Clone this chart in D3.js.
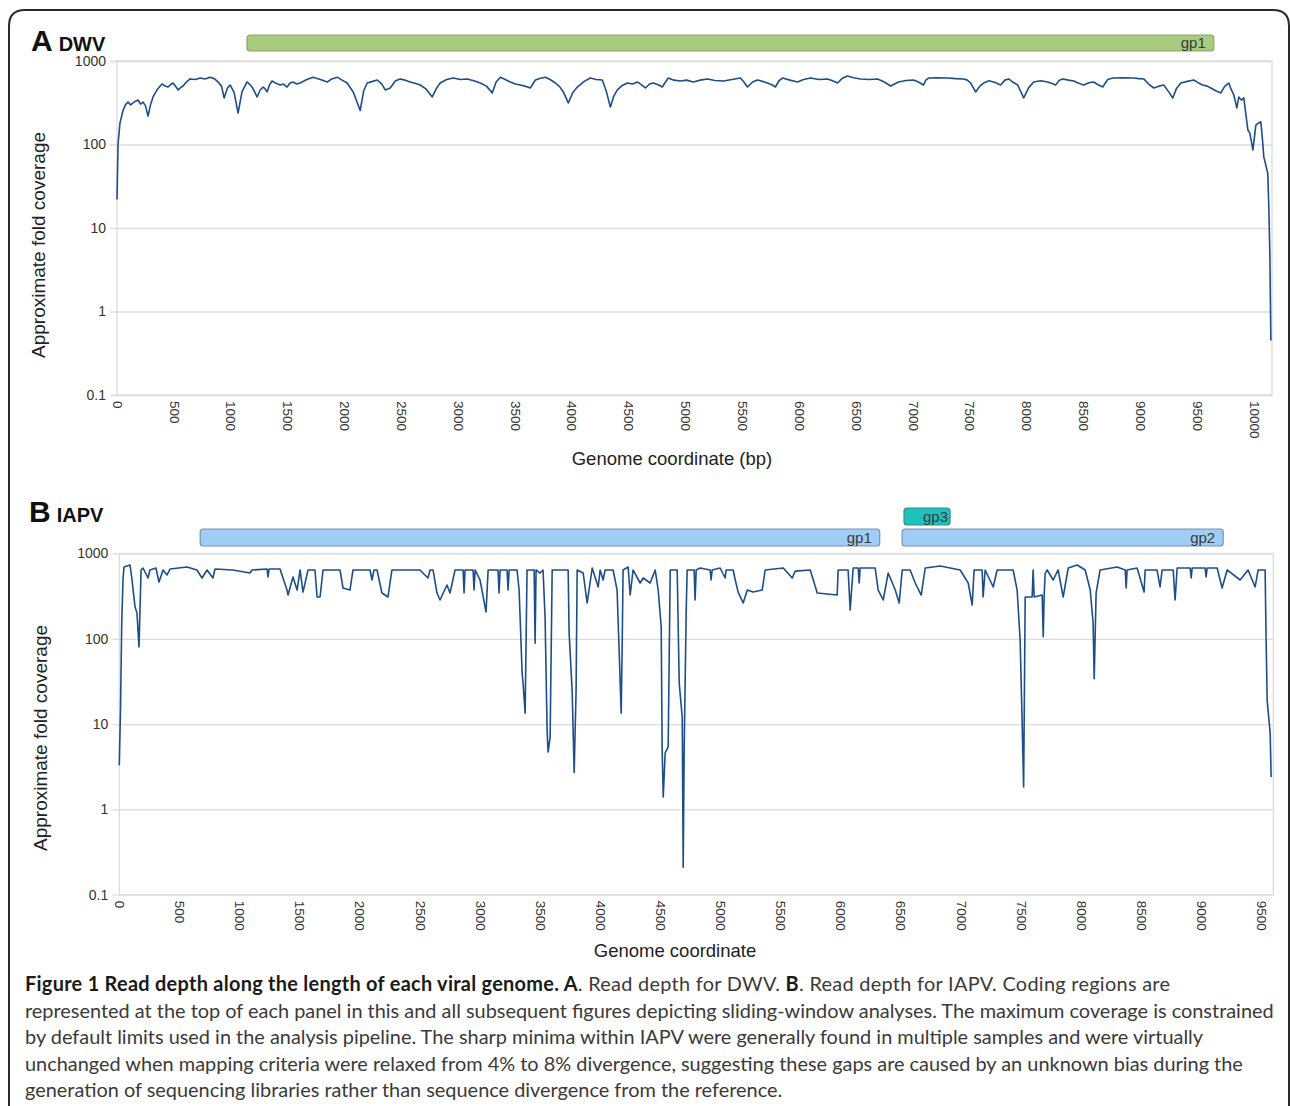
<!DOCTYPE html>
<html>
<head>
<meta charset="utf-8">
<script src="https://cdn.jsdelivr.net/npm/d3@7"></script>
<style>
  body { margin: 0; background: #fff; }
  svg text { font-family: "Liberation Sans", Arial, sans-serif; }
  .caption text { font-family: Lato, "Open Sans", sans-serif; }
</style>
</head>
<body>
<svg id="fig" width="1290" height="1106"></svg>
<script>
// ---- data ----
// DWV read depth: [genome position (bp), approximate fold coverage]
var dwvDepth = [
  [0,22],[9,100],[26,180],[53,255],[75,300],[97,322],[120,298],[141,315],[163,330],[185,341],[207,305],[229,322],[251,290],[273,219],[295,300],[317,371],
  [356,460],[396,531],[420,505],[449,488],[470,520],[493,545],[515,500],[537,450],[560,480],[581,502],[610,560],[643,610],[690,600],[731,625],[775,610],[819,640],[855,615],[889,561],[920,500],[942,361],
  [970,470],[995,516],[1030,420],[1065,238],[1100,430],[1144,561],[1165,530],[1188,488],[1210,430],[1232,371],[1260,450],[1285,488],[1300,470],[1320,426],[1342,520],[1364,575],[1400,540],[1435,516],[1465,530],[1496,488],
  [1520,540],[1549,561],[1580,530],[1611,545],[1670,600],[1725,640],[1790,600],[1849,561],[1890,610],[1937,640],[1980,590],[2025,545],[2080,420],[2139,255],[2170,440],[2201,545],[2250,570],[2289,592],[2330,530],[2359,450],
  [2403,475],[2450,580],[2491,610],[2535,590],[2579,561],[2620,540],[2667,516],[2720,460],[2773,371],[2810,470],[2843,545],[2900,600],[2958,625],[3020,600],[3081,610],[3140,580],[3195,545],[3250,500],[3301,415],
  [3335,560],[3372,640],[3415,600],[3460,561],[3505,530],[3548,516],[3590,500],[3636,475],[3680,592],[3725,620],[3768,640],[3810,600],[3856,545],[3895,490],[3926,426],[3970,315],[4010,420],[4049,488],
  [4110,570],[4164,625],[4215,600],[4269,592],[4305,430],[4340,281],[4370,380],[4401,450],[4445,510],[4489,545],[4535,530],[4577,561],[4612,520],[4648,475],[4685,530],[4718,545],[4760,520],[4797,488],[4825,560],[4850,625],
  [4900,590],[4956,575],[5010,590],[5070,561],[5130,590],[5194,610],[5260,585],[5335,575],[5410,600],[5484,625],[5515,560],[5546,488],[5590,560],[5634,592],[5680,570],[5722,545],[5760,520],[5792,488],[5823,580],[5854,625],
  [5920,590],[5986,561],[6040,600],[6100,625],[6175,600],[6250,610],[6295,580],[6338,545],[6380,620],[6426,661],[6480,630],[6540,610],[6615,600],[6690,610],[6750,560],[6805,502],[6840,530],[6875,561],[6940,585],[7007,592],
  [7050,560],[7095,516],[7115,590],[7139,625],[7220,630],[7306,625],[7380,615],[7447,610],[7480,590],[7509,545],[7553,426],[7590,500],[7623,545],[7670,580],[7711,561],[7740,540],[7773,516],[7810,590],[7843,610],[7880,560],
  [7923,516],[7976,361],[8020,480],[8064,561],[8125,580],[8187,561],[8220,540],[8257,516],[8290,590],[8319,610],[8370,590],[8416,575],[8460,540],[8504,516],[8550,550],[8592,561],[8630,520],[8671,488],[8715,600],
  [8759,625],[8850,630],[8944,625],[8990,615],[9032,610],[9075,530],[9120,475],[9165,500],[9208,516],[9250,430],[9287,361],[9320,470],[9358,545],[9415,570],[9472,592],[9510,550],[9551,516],[9590,500],[9622,475],
  [9665,440],[9710,415],[9745,500],[9780,545],[9800,460],[9824,392],[9851,274],[9868,371],[9890,340],[9912,361],[9930,230],[9948,149],[9965,137],[9992,86],[10018,171],
  [10040,180],[10062,187],[10075,120],[10088,71],[10123,45],[10132,18],[10141,5],[10150,0.45]
];

// IAPV read depth: [genome position (bp), approximate fold coverage]
var iapvDepth = [
  [0,3.3],[10,15],[20,150],[31,500],[39,695],[89,733],[103,530],[131,237],[147,200],[164,80],
  [181,641],[197,676],[239,516],[255,641],[305,676],[330,463],[364,641],[397,560],[422,658],[563,695],
  [646,641],[688,516],[730,641],[779,516],[796,658],[946,641],[1087,590],[1104,641],[1229,658],[1237,530],
  [1246,658],[1337,658],[1362,516],[1395,373],[1404,326],[1445,530],[1479,373],[1504,641],[1528,353],[1570,641],
  [1628,641],[1645,309],[1670,309],[1695,641],[1836,641],[1861,394],[1919,373],[1944,641],[2086,641],[2102,489],
  [2119,641],[2144,641],[2185,344],[2235,309],[2268,641],[2501,641],[2568,516],[2585,641],[2610,641],[2643,344],
  [2668,285],[2726,427],[2751,344],[2793,641],[2860,641],[2868,344],[2876,641],[2943,641],[2951,373],[2960,641],
  [3001,489],[3051,206],[3068,641],[3151,641],[3159,344],[3168,641],[3226,641],[3234,373],[3243,641],[3309,641],
  [3326,373],[3351,40],[3359,30],[3376,13.4],[3392,641],[3451,641],[3459,89],[3467,641],[3500,590],[3525,641],
  [3542,180],[3559,8.5],[3567,4.7],[3584,7],[3601,641],[3734,641],[3742,117],[3767,25],[3784,2.7],[3800,25],
  [3809,641],[3859,590],[3892,263],[3934,676],[3984,405],[4000,641],[4025,489],[4041,641],[4108,641],[4141,373],
  [4158,74],[4175,13.4],[4183,74],[4191,641],[4233,695],[4250,326],[4274,641],[4333,451],[4358,516],[4416,451],
  [4458,641],[4483,373],[4508,138],[4516,4.9],[4525,1.4],[4541,4.6],[4566,5.4],[4583,641],[4641,641],[4658,30],
  [4683,12],[4691,0.21],[4699,4.9],[4716,218],[4724,641],[4782,641],[4790,285],[4799,641],[4832,676],[4915,641],
  [4923,489],[4932,641],[4998,676],[5040,516],[5048,641],[5107,641],[5124,489],[5148,353],[5190,263],[5224,373],
  [5273,353],[5348,373],[5373,641],[5523,676],[5598,516],[5623,622],[5748,641],[5806,344],[5972,326],[5980,641],
  [6063,641],[6080,218],[6105,676],[6147,676],[6155,451],[6163,676],[6288,676],[6313,373],[6355,285],[6396,590],
  [6455,373],[6488,263],[6513,641],[6579,641],[6621,451],[6671,326],[6704,676],[6829,713],[6995,641],[7062,451],
  [7095,249],[7111,641],[7178,641],[7186,309],[7203,641],[7270,405],[7303,641],[7436,641],[7469,373],[7494,97],
  [7511,10],[7523,1.83],[7536,309],[7594,309],[7602,641],[7611,309],[7677,326],[7686,106],[7694,326],[7702,580],
  [7719,641],[7769,489],[7810,641],[7852,309],[7894,676],[7969,733],[8035,641],[8077,373],[8101,153],[8110,34],
  [8126,344],[8159,641],[8301,695],[8368,641],[8376,394],[8384,641],[8467,676],[8525,353],[8534,641],[8633,641],
  [8658,405],[8675,641],[8767,641],[8783,285],[8800,676],[8908,676],[8917,516],[8925,676],[9033,676],[9041,530],
  [9050,676],[9133,676],[9174,394],[9216,641],[9324,489],[9390,641],[9449,405],[9474,641],[9532,641],[9540,100],
  [9549,19],[9574,7.8],[9582,2.4]
];

// coding regions (bp); track 1 sits above track 0
var dwvGenes = [
  { name: 'gp1', start: 1144, end: 9648, track: 0 }
];
var iapvGenes = [
  { name: 'gp1', start: 673, end: 6326, track: 0 },
  { name: 'gp2', start: 6512, end: 9183, track: 0 },
  { name: 'gp3', start: 6528, end: 6911, track: 1 }
];

var yTicks = [0.1, 1, 10, 100, 1000];
var dwvXTicks = [0, 500, 1000, 1500, 2000, 2500, 3000, 3500, 4000, 4500, 5000,
                 5500, 6000, 6500, 7000, 7500, 8000, 8500, 9000, 9500, 10000];
var iapvXTicks = [0, 500, 1000, 1500, 2000, 2500, 3000, 3500, 4000, 4500,
                  5000, 5500, 6000, 6500, 7000, 7500, 8000, 8500, 9000, 9500];

var captionLines = [
  [['b', 'Figure 1 Read depth along the length of each viral genome. A'], ['n', '. Read depth for DWV. '],
   ['b', 'B'], ['n', '. Read depth for IAPV. Coding regions are']],
  [['n', 'represented at the top of each panel in this and all subsequent figures depicting sliding-window analyses. The maximum coverage is constrained']],
  [['n', 'by default limits used in the analysis pipeline. The sharp minima within IAPV were generally found in multiple samples and were virtually']],
  [['n', 'unchanged when mapping criteria were relaxed from 4% to 8% divergence, suggesting these gaps are caused by an unknown bias during the']],
  [['n', 'generation of sequencing libraries rather than sequence divergence from the reference.']]
];

// ---- styles ----
var geneFill = { dwv: '#a8cc7f', iapv: '#9fcdf6', gp3: '#1bc3bc' };
var geneStroke = { dwv: '#88a862', iapv: '#7892b0', gp3: '#3a8c88' };
var lineColor = '#1d4e8a';
var gridColor = '#dcdcdc';
var sansFont = '"Liberation Sans", Arial, sans-serif';

var svg = d3.select('#fig');
svg.append('rect').attr('width', 1290).attr('height', 1106).attr('fill', '#fff');

// rounded card frame
svg.append('path')
    .attr('d', 'M9,1106 V26 Q9,10 25,10 H1273 Q1289,10 1289,26 V1106')
    .attr('fill', 'none')
    .attr('stroke', '#2a2a2a')
    .attr('stroke-width', 2);

function drawPanel(p) {
    var x = d3.scaleLinear().domain([0, p.xMax]).range([p.left, p.right]);
    var y = d3.scaleLog().domain([0.1, 1000]).range([p.bottom, p.top]);
    var g = svg.append('g');

    // gridlines + y labels
    var ya = g.append('g')
        .attr('transform', 'translate(' + (p.left - 7) + ',0)')
        .call(d3.axisLeft(y).tickValues(yTicks).tickFormat(function (d) { return String(d); })
            .tickSize(-(p.right - p.left + 7)).tickPadding(4));
    ya.select('.domain').remove();
    ya.selectAll('line').attr('stroke', gridColor).attr('stroke-width', 1.3);
    ya.selectAll('text').attr('font-size', 14).attr('fill', '#333').attr('font-family', sansFont);

    // plot frame
    g.append('rect')
        .attr('x', p.left).attr('y', p.top)
        .attr('width', p.right - p.left).attr('height', p.bottom - p.top)
        .attr('fill', 'none').attr('stroke', gridColor).attr('stroke-width', 1.3);

    // x axis with rotated labels
    var xa = g.append('g')
        .attr('transform', 'translate(0,' + p.bottom + ')')
        .call(d3.axisBottom(x).tickValues(p.xTicks).tickFormat(function (d) { return String(d); })
            .tickSize(0).tickPadding(0));
    xa.select('.domain').remove();
    xa.selectAll('text')
        .attr('transform', 'rotate(90)')
        .attr('x', 6).attr('y', 0).attr('dy', '0.35em')
        .attr('text-anchor', 'start')
        .attr('font-size', 13.5).attr('fill', '#333')
        .attr('font-family', sansFont);

    // coverage line
    g.append('path')
        .datum(p.data)
        .attr('fill', 'none')
        .attr('stroke', lineColor)
        .attr('stroke-width', 1.6)
        .attr('stroke-linejoin', 'round')
        .attr('d', d3.line().x(function (d) { return x(d[0]); }).y(function (d) { return y(d[1]); }));

    // coding regions
    var gene = g.selectAll('.gene').data(p.genes).enter().append('g').attr('class', 'gene');
    gene.append('rect')
        .attr('x', function (d) { return x(d.start); })
        .attr('y', function (d) { return p.trackY[d.track]; })
        .attr('width', function (d) { return x(d.end) - x(d.start); })
        .attr('height', p.trackH)
        .attr('rx', 3)
        .attr('fill', function (d) { return d.name === 'gp3' ? geneFill.gp3 : geneFill[p.key]; })
        .attr('stroke', function (d) { return d.name === 'gp3' ? geneStroke.gp3 : geneStroke[p.key]; })
        .attr('stroke-width', 1.2);
    gene.append('text')
        .attr('x', function (d) { return x(d.end) - (d.name === 'gp3' ? 2 : 8); })
        .attr('y', function (d) { return p.trackY[d.track] + p.trackH / 2; })
        .attr('dy', '0.36em')
        .attr('text-anchor', 'end')
        .attr('font-size', 15)
        .attr('fill', '#3a3a3a')
        .text(function (d) { return d.name; });

    // titles
    g.append('text')
        .attr('transform', 'translate(' + p.yTitleX + ',' + p.yTitleY + ') rotate(-90)')
        .attr('text-anchor', 'middle')
        .attr('font-size', 19).attr('fill', '#222')
        .text('Approximate fold coverage');
    g.append('text')
        .attr('x', p.xTitleX).attr('y', p.xTitleY)
        .attr('text-anchor', 'middle')
        .attr('font-size', 18.5).attr('fill', '#222')
        .text(p.xTitle);

    var lab = g.append('text').attr('x', p.labelX).attr('y', p.labelY).attr('font-weight', 'bold').attr('fill', '#111');
    lab.append('tspan').attr('font-size', 30).text(p.letter);
    lab.append('tspan').attr('font-size', 20).attr('dx', 6).text(p.name);
}

drawPanel({
    key: 'dwv', letter: 'A', name: 'DWV', labelX: 31, labelY: 51,
    data: dwvDepth, genes: dwvGenes, xTicks: dwvXTicks, xMax: 10160,
    left: 117, right: 1272, top: 61, bottom: 395,
    trackY: [35, 14], trackH: 16,
    yTitleX: 45, yTitleY: 245, xTitle: 'Genome coordinate (bp)', xTitleX: 672, xTitleY: 465
});

drawPanel({
    key: 'iapv', letter: 'B', name: 'IAPV', labelX: 29, labelY: 522,
    data: iapvDepth, genes: iapvGenes, xTicks: iapvXTicks, xMax: 9600,
    left: 119.3, right: 1273.3, top: 553.5, bottom: 894.7,
    trackY: [529, 508], trackH: 17,
    yTitleX: 47, yTitleY: 738, xTitle: 'Genome coordinate', xTitleX: 675, xTitleY: 957
});

// caption: one font size for all lines, chosen so the widest line spans the card
var cap = svg.append('g').attr('class', 'caption');
var capTexts = captionLines.map(function (parts, i) {
    var t = cap.append('text')
        .attr('x', 25).attr('y', 991 + i * 26.6)
        .attr('font-size', 18)
        .attr('fill', '#3a3a3a');
    parts.forEach(function (s) {
        t.append('tspan')
            .attr('font-weight', s[0] === 'b' ? 'bold' : 'normal')
            .attr('fill', s[0] === 'b' ? '#1a1a1a' : '#3a3a3a')
            .text(s[1]);
    });
    return t;
});
var widest = capTexts[1].node().getComputedTextLength();
var capSize = 18 * 1250 / widest;
capTexts.forEach(function (t) { t.attr('font-size', capSize); });
// the bold opening runs a little wider in the original typeface
capTexts[0].attr('textLength', 1145).attr('lengthAdjust', 'spacing');
</script>
</body>
</html>
